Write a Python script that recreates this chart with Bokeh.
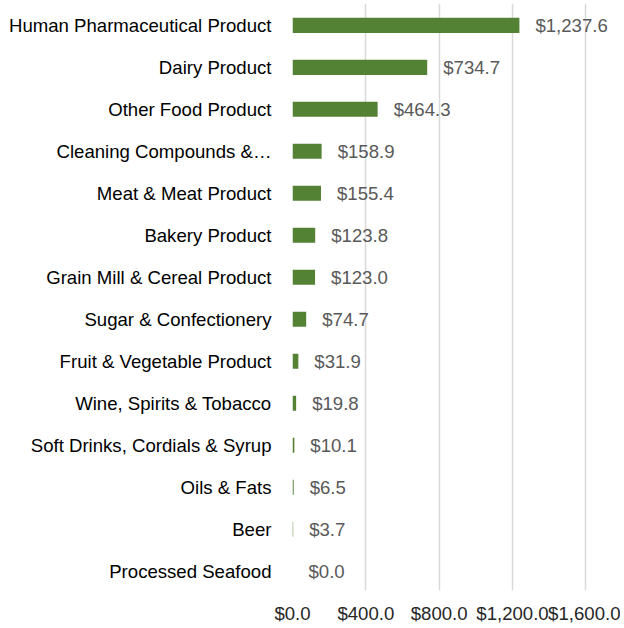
from bokeh.plotting import figure
from bokeh.models import Range1d, FixedTicker, NumeralTickFormatter, ColumnDataSource
from bokeh.core.properties import value
from bokeh.embed import file_html
from bokeh.resources import INLINE

categories = [
    "Human Pharmaceutical Product",
    "Dairy Product",
    "Other Food Product",
    "Cleaning Compounds &\u2026",
    "Meat & Meat Product",
    "Bakery Product",
    "Grain Mill & Cereal Product",
    "Sugar & Confectionery",
    "Fruit & Vegetable Product",
    "Wine, Spirits & Tobacco",
    "Soft Drinks, Cordials & Syrup",
    "Oils & Fats",
    "Beer",
    "Processed Seafood",
]
values = [1237.6, 734.7, 464.3, 158.9, 155.4, 123.8, 123.0, 74.7, 31.9, 19.8, 10.1, 6.5, 3.7, 0.0]
x_ticks = [0, 400, 800, 1200, 1600]

idx = list(range(len(categories)))
labels = ["${:,.1f}".format(v) for v in values]
src = ColumnDataSource(dict(y=idx, v=values, lab=labels, cat=categories))

FONT = "Liberation Sans"
FS = "18.6px"

p = figure(width=620, height=626, output_backend="svg", toolbar_location=None,
           x_range=Range1d(0, 1789), y_range=Range1d(13.46, -0.52),
           min_border_left=292, min_border_right=0, min_border_top=3, min_border_bottom=34)
p.outline_line_color = None
p.background_fill_color = None
p.border_fill_color = None

p.hbar(y="y", left=0, right="v", height=0.36, source=src, color="#548235", line_color=None)
p.text(x="v", y="y", text="lab", source=src, x_offset=16, text_baseline="middle",
       text_align="left", text_color="#595959", text_font=value(FONT), text_font_size=FS)

p.xaxis.ticker = FixedTicker(ticks=x_ticks)
p.xaxis.formatter = NumeralTickFormatter(format="$0,0.0")
p.xaxis.axis_line_color = None
p.xaxis.major_tick_line_color = None
p.xaxis.minor_tick_line_color = None
p.xaxis.major_tick_out = 0
p.xaxis.minor_tick_out = 0
p.xaxis.major_label_standoff = 12
p.xaxis.major_label_text_font = FONT
p.xaxis.major_label_text_font_size = FS
p.xaxis.major_label_text_color = "#262626"

p.yaxis.ticker = FixedTicker(ticks=idx)
p.yaxis.major_label_overrides = {i: c for i, c in zip(idx, categories)}
p.yaxis.axis_line_color = None
p.yaxis.major_tick_line_color = None
p.yaxis.minor_tick_line_color = None
p.yaxis.major_tick_out = 0
p.yaxis.minor_tick_out = 0
p.yaxis.major_label_standoff = 21
p.yaxis.major_label_text_font = FONT
p.yaxis.major_label_text_font_size = FS
p.yaxis.major_label_text_color = "#000000"

p.xgrid.grid_line_color = "#d9d9d9"
p.xgrid.grid_line_width = 1.5
p.ygrid.grid_line_color = None

open("out.html", "w").write(file_html(p, INLINE))
